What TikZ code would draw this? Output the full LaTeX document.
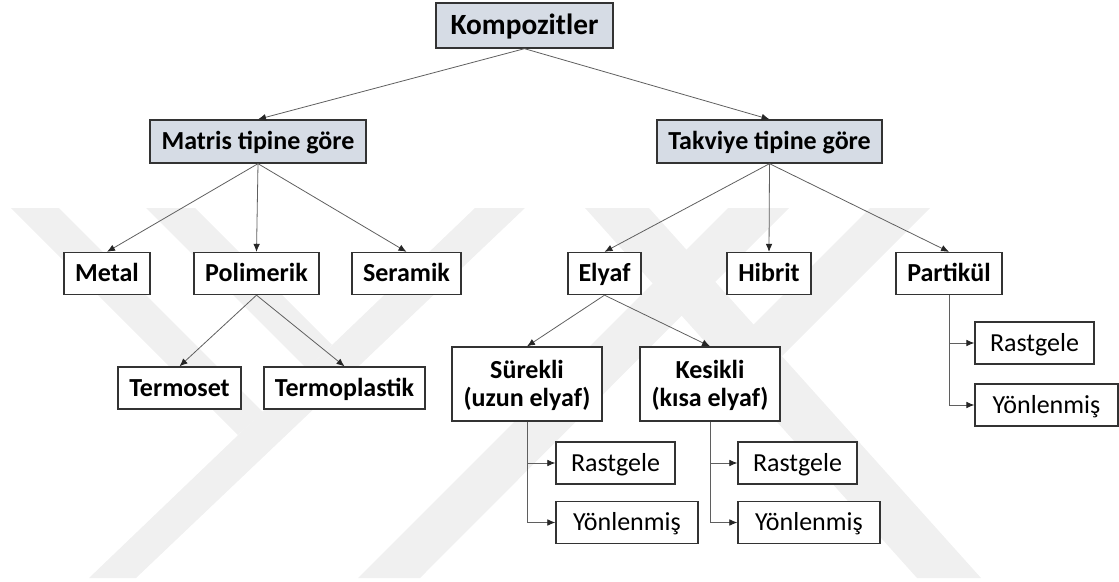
\documentclass[tikz,border=0pt]{standalone}
\usepackage{fontspec}
\setmainfont{Carlito}
\usepackage{tikz}
\usetikzlibrary{arrows.meta}

\definecolor{kutumavi}{HTML}{D6DCE5}
\definecolor{okgri}{HTML}{5F5F5F}

\begin{document}
\begin{tikzpicture}[x=0.75pt,y=-0.75pt,->,>={Latex[length=6pt,width=5pt,color=black!85]},
                    bag/.style={draw=okgri,line width=0.6pt},
                    every edge/.style={bag}]
  \tikzset{gen/.style={minimum width=#1*0.75pt},
           kutu/.style={draw=black!80,line width=1pt,fill=white,inner sep=0pt,
                        minimum height=31.5pt,align=center,
                        text height=12.6pt,text depth=0pt,
                        font=\bfseries\fontsize{19.5}{20.5}\selectfont},
           ikisatir/.style={minimum height=55.5pt,text height=33pt},
           ust/.style={kutu,fill=kutumavi,minimum height=32.25pt},
           yaprak/.style={kutu,font=\fontsize{19.5}{20.5}\selectfont},
           bant/.style={fill=black!6,draw=none}}
  \useasboundingbox (0,0) rectangle (1119,581);

  \fill[bant] (11,208) -- (59,208) -- (263,412) -- (238,435) -- cycle;
  \fill[bant] (146,208) -- (195,208) -- (332,345) -- (307,369) -- cycle;
  \fill[bant] (475,208) -- (525,208) -- (136,578) -- (89,578) -- cycle;
  \fill[bant] (585,208) -- (649,208) -- (981,578) -- (917,578) -- cycle;
  \fill[bant] (728,208) -- (789,208) -- (420,578) -- (358,578) -- cycle;
  \fill[bant] (870,208) -- (930,208) -- (782,356) -- (753,325) -- cycle;

  \node[ust,gen=177,minimum height=33.75pt,text height=14.2pt,
        font=\bfseries\fontsize{22}{24}\selectfont] (komp) at (524.5,25.5) {Kompozitler};
  \node[ust,gen=216]  (matris)   at (258,141.5)   {Matris tipine göre};
  \node[ust,gen=225]  (takviye)  at (769.5,141.5) {Takviye tipine göre};
  \node[kutu,gen=86]  (metal)    at (107,273.5)   {Metal};
  \node[kutu,gen=125] (polimer)  at (256.5,273.5) {Polimerik};
  \node[kutu,gen=109] (seramik)  at (406.5,273.5) {Seramik};
  \node[kutu,gen=73]  (elyaf)    at (604.5,273.5) {Elyaf};
  \node[kutu,gen=84]  (hibrit)   at (769,273.5)   {Hibrit};
  \node[kutu,gen=106] (partikul) at (949,273.5)   {Partikül};
  \node[kutu,gen=123] (termoset) at (179.5,388)   {Termoset};
  \node[kutu,gen=161] (termopl)  at (344.5,388)   {Termoplastik};
  \node[kutu,ikisatir,gen=150] (surekli) at (527,384) {Sürekli\\(uzun elyaf)};
  \node[kutu,ikisatir,gen=140] (kesikli) at (710,384) {Kesikli\\(kısa elyaf)};
  \node[yaprak,gen=119] (sRast) at (615.5,463)  {Rastgele};
  \node[yaprak,gen=142] (sYon)  at (627,522.5)  {Yönlenmiş};
  \node[yaprak,gen=119] (kRast) at (797.5,463)  {Rastgele};
  \node[yaprak,gen=142] (kYon)  at (809,522.5)  {Yönlenmiş};
  \node[yaprak,gen=119] (pRast) at (1034.5,343) {Rastgele};
  \node[yaprak,gen=143] (pYon)  at (1046.5,405) {Yönlenmiş};

  \path (komp.south)    edge (matris.north) edge (takviye.north)
        (matris.south)  edge (metal.north) edge (polimer.north) edge (seramik.north)
        (takviye.south) edge (elyaf.north) edge (hibrit.north) edge (partikul.north)
        (polimer.south) edge (termoset.north) edge (termopl.north)
        (elyaf.south)   edge (surekli.north) edge (kesikli.north);

  \foreach \k/\a/\b in {surekli/sRast/sYon,kesikli/kRast/kYon,partikul/pRast/pYon} {
    \draw[bag] (\k) |- (\a);
    \draw[bag] (\k) |- (\b);
  }
\end{tikzpicture}
\end{document}
